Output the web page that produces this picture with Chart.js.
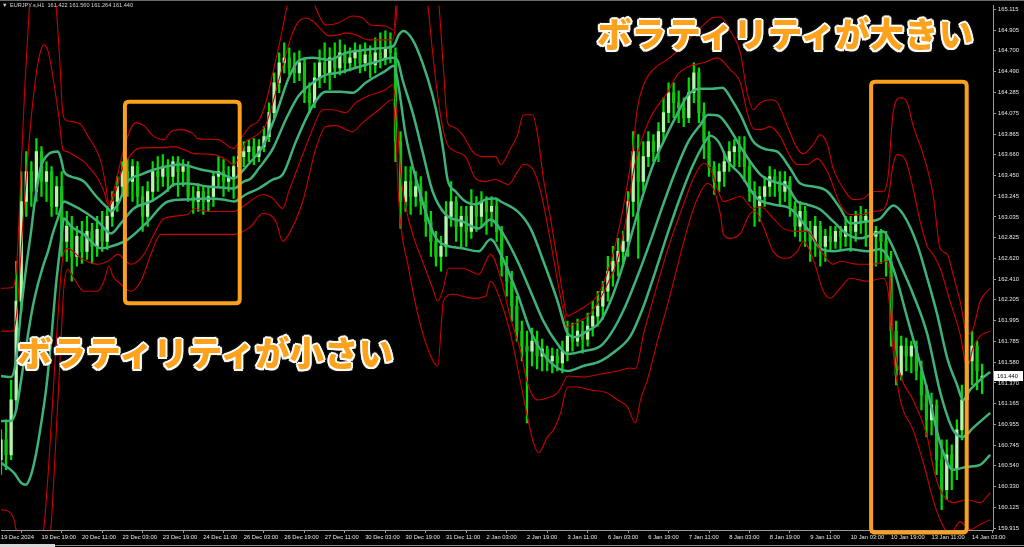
<!DOCTYPE html>
<html lang="ja">
<head>
<meta charset="utf-8">
<title>EURJPY.s,H1</title>
<script src="https://cdn.jsdelivr.net/npm/chart.js@4.4.1/dist/chart.umd.min.js"></script>
<style>
  html, body { margin: 0; padding: 0; background: #000; overflow: hidden; }
  #wrap { position: relative; width: 1024px; height: 547px; }
  #chart { position: absolute; left: 0; top: 0; }
  .head { position: absolute; top: 2px; color: #d4d4d4; font-family: "Liberation Sans", sans-serif; font-size: 5.6px; line-height: 7px; white-space: pre; }
  .note { position: absolute; font-family: "Noto Sans CJK JP", sans-serif; font-weight: 900; font-size: 34.6px; line-height: 1; color: #fca21c; white-space: nowrap;
    text-shadow: 2px 0 0 #fff, -2px 0 0 #fff, 0 2px 0 #fff, 0 -2px 0 #fff, 1.5px 1.5px 0 #fff, -1.5px 1.5px 0 #fff, 1.5px -1.5px 0 #fff, -1.5px -1.5px 0 #fff, 0 0 4px #888; }
</style>
</head>
<body>
<div id="wrap">
  <canvas id="chart" width="1024" height="547"></canvas>
  <div class="head" style="left:2px">▼</div>
  <div class="head" style="left:10px">EURJPY.s,H1  161.422 161.560 161.264 161.440</div>
  <div class="note" style="left:597px; top:15px">ボラティリティが大きい</div>
  <div class="note" style="left:17px; top:334px">ボラティリティが小さい</div>
</div>
<script>
const ctx = document.getElementById('chart').getContext('2d');

// time axis: one label every 16 hourly bars
const timeLabels = ['19 Dec 2024', '19 Dec 19:00', '20 Dec 11:00', '23 Dec 03:00', '23 Dec 19:00', '24 Dec 11:00',
  '26 Dec 03:00', '26 Dec 19:00', '27 Dec 11:00', '30 Dec 03:00', '30 Dec 19:00', '31 Dec 11:00', '2 Jan 03:00',
  '2 Jan 19:00', '3 Jan 11:00', '6 Jan 03:00', '6 Jan 19:00', '7 Jan 11:00', '8 Jan 03:00', '8 Jan 19:00',
  '9 Jan 11:00', '10 Jan 03:00', '10 Jan 19:00', '13 Jan 11:00', '14 Jan 03:00'];
const priceTicks = [165.115, 164.905, 164.700, 164.490, 164.285, 164.075, 163.865, 163.660, 163.450, 163.245,
  163.035, 162.825, 162.620, 162.410, 162.205, 161.995, 161.785, 161.580, 161.370, 161.165, 160.955, 160.745,
  160.540, 160.330, 160.125, 159.915];

// candles, one every 2 bars
const opens = [160.60,160.80,160.65,161.20,162.19,163.19,163.49,163.29,163.69,163.39,
  163.49,163.14,163.34,162.79,162.94,162.64,162.84,162.69,162.89,162.74,
  162.91,162.79,163.04,163.19,163.34,163.49,163.39,163.54,163.24,163.04,
  163.29,163.49,163.44,163.54,163.44,163.59,163.49,163.54,163.24,163.19,
  163.29,163.19,163.24,163.44,163.49,163.39,163.44,163.54,163.64,163.69,
  163.74,163.64,163.74,163.84,164.08,164.38,164.58,164.63,164.53,164.48,
  164.58,164.28,164.18,164.43,164.58,164.48,164.63,164.53,164.68,164.58,
  164.63,164.70,164.58,164.66,164.56,164.68,164.63,164.73,164.68,163.79,
  163.19,163.39,163.24,163.34,163.19,162.99,162.79,162.64,162.74,163.04,
  163.19,162.94,163.04,162.89,163.14,163.04,163.19,163.09,163.14,162.89,
  162.54,162.39,162.14,161.89,161.74,161.69,161.79,161.64,161.71,161.59,
  161.64,161.57,161.69,161.84,161.79,161.89,161.81,161.94,162.04,162.14,
  162.29,162.49,162.59,162.69,162.79,163.19,163.69,163.39,163.64,163.79,
  163.69,163.89,164.08,164.28,164.18,164.13,164.03,164.28,164.48,164.08,
  163.79,163.54,163.39,163.49,163.59,163.69,163.74,163.69,163.54,163.29,
  163.14,163.24,163.34,163.44,163.39,163.29,163.39,163.14,162.94,163.09,
  162.89,162.79,162.94,162.74,162.84,162.79,162.89,162.84,162.94,162.89,
  163.04,162.99,163.04,162.84,162.89,162.79,162.59,161.89,161.45,161.74,
  161.64,161.74,161.49,161.25,161.00,161.15,160.60,160.30,160.65,160.50,
  160.90,161.20,161.59,161.74,161.422];
const highs = [160.90,161.00,161.40,162.59,163.49,163.69,163.59,163.82,163.74,163.59,
  163.54,163.44,163.49,163.09,163.04,162.94,162.99,163.04,162.97,163.04,
  163.09,163.14,163.29,163.44,163.59,163.62,163.61,163.59,163.34,163.39,
  163.59,163.64,163.66,163.61,163.64,163.64,163.61,163.59,163.34,163.37,
  163.34,163.34,163.49,163.64,163.61,163.54,163.64,163.74,163.79,163.81,
  163.82,163.81,163.94,164.18,164.48,164.68,164.78,164.73,164.68,164.70,
  164.63,164.38,164.58,164.71,164.78,164.73,164.78,164.81,164.76,164.73,
  164.78,164.76,164.78,164.75,164.83,164.88,164.90,164.88,164.73,163.89,
  163.54,163.54,163.49,163.44,163.29,163.09,162.89,162.84,163.19,163.39,
  163.24,163.14,163.14,163.31,163.24,163.29,163.24,163.24,163.22,162.94,
  162.64,162.49,162.24,161.99,161.89,161.92,161.89,161.81,161.74,161.72,
  161.71,161.79,161.99,161.97,162.01,161.99,162.07,162.19,162.29,162.39,
  162.64,162.74,162.82,162.89,163.29,163.89,163.86,163.79,163.89,163.86,
  163.98,164.23,164.38,164.38,164.30,164.23,164.43,164.58,164.53,164.18,
  163.89,163.59,163.57,163.69,163.79,163.81,163.84,163.84,163.59,163.39,
  163.34,163.44,163.54,163.51,163.49,163.49,163.44,163.19,163.19,163.14,
  162.99,163.04,162.99,162.91,162.94,162.94,162.94,163.04,163.04,163.09,
  163.14,163.11,163.09,162.94,162.91,162.89,162.69,161.99,161.84,161.82,
  161.79,161.79,161.59,161.35,161.27,161.20,160.80,160.80,160.75,161.00,
  161.35,161.79,161.89,161.79,161.560];
const lows = [160.45,160.50,160.60,161.10,162.09,163.04,163.14,163.19,163.24,163.19,
  163.04,163.06,162.64,162.59,162.39,162.54,162.57,162.61,162.57,162.64,
  162.69,162.71,162.94,163.09,163.24,163.24,163.19,163.14,162.89,162.94,
  163.19,163.29,163.34,163.29,163.34,163.24,163.34,163.19,163.07,163.09,
  163.06,163.09,163.14,163.34,163.24,163.29,163.22,163.44,163.54,163.59,
  163.56,163.59,163.69,163.79,164.03,164.28,164.48,164.46,164.38,164.40,
  164.18,164.08,164.13,164.33,164.38,164.31,164.43,164.46,164.48,164.50,
  164.53,164.48,164.50,164.43,164.48,164.53,164.56,164.58,163.59,162.92,
  163.09,163.06,163.14,163.06,162.84,162.64,162.54,162.49,162.64,162.94,
  162.79,162.72,162.74,162.82,162.89,162.94,162.86,162.94,162.79,162.44,
  162.24,161.99,161.79,161.59,160.97,161.54,161.51,161.49,161.49,161.47,
  161.49,161.47,161.59,161.69,161.74,161.67,161.74,161.84,161.94,162.01,
  162.19,162.34,162.44,162.54,162.64,163.04,162.62,163.29,163.54,163.59,
  163.59,163.79,163.98,164.03,163.98,163.94,163.98,164.18,163.98,163.62,
  163.44,163.26,163.29,163.34,163.49,163.54,163.54,163.39,163.19,162.94,
  162.99,163.14,163.24,163.24,163.14,163.19,163.04,162.84,162.79,162.74,
  162.59,162.64,162.54,162.59,162.69,162.72,162.71,162.74,162.69,162.79,
  162.87,162.74,162.64,162.54,162.57,162.44,161.74,161.35,161.40,161.49,
  161.47,161.40,161.10,160.83,160.85,160.45,160.10,160.20,160.30,160.40,
  160.80,161.10,161.35,161.30,161.264];
const closes = [160.80,160.65,161.20,162.19,163.19,163.49,163.29,163.69,163.39,163.49,
  163.14,163.34,162.79,162.94,162.64,162.84,162.69,162.89,162.74,162.91,
  162.79,163.04,163.19,163.34,163.49,163.39,163.54,163.24,163.04,163.29,
  163.49,163.44,163.54,163.44,163.59,163.49,163.54,163.24,163.19,163.29,
  163.19,163.24,163.44,163.49,163.39,163.44,163.54,163.64,163.69,163.74,
  163.64,163.74,163.84,164.08,164.38,164.58,164.63,164.53,164.48,164.58,
  164.28,164.18,164.43,164.58,164.48,164.63,164.53,164.68,164.58,164.63,
  164.70,164.58,164.66,164.56,164.68,164.63,164.73,164.68,163.79,163.19,
  163.39,163.24,163.34,163.19,162.99,162.79,162.64,162.74,163.04,163.19,
  162.94,163.04,162.89,163.14,163.04,163.19,163.09,163.14,162.89,162.54,
  162.39,162.14,161.89,161.74,161.69,161.79,161.64,161.71,161.59,161.64,
  161.57,161.69,161.84,161.79,161.89,161.81,161.94,162.04,162.14,162.29,
  162.49,162.59,162.69,162.79,163.19,163.69,163.39,163.64,163.79,163.69,
  163.89,164.08,164.28,164.18,164.13,164.03,164.28,164.48,164.08,163.79,
  163.54,163.39,163.49,163.59,163.69,163.74,163.69,163.54,163.29,163.14,
  163.24,163.34,163.44,163.39,163.29,163.39,163.14,162.94,163.09,162.89,
  162.79,162.94,162.74,162.84,162.79,162.89,162.84,162.94,162.89,163.04,
  162.99,163.04,162.84,162.89,162.79,162.59,161.89,161.45,161.74,161.64,
  161.74,161.49,161.25,161.00,161.15,160.60,160.30,160.65,160.50,160.90,
  161.20,161.59,161.74,161.49,161.440];
const BAR_STEP = 2;

// band lines as [bar, price]
const upper3 = [[0,162.32],[4.7,162.33],[6.3,162.59],[7.9,163.49],[9.5,164.38],[11.1,165.08],[12.2,165.48],[16.6,166.08],[19.8,165.58],[21.7,165.18],[23.3,164.58],[24.5,164.06],[26.1,164.00],[31.6,163.96],[34.0,163.86],[39.5,163.59],[41.5,163.34],[42.7,163.16],[44.3,163.27],[46.2,163.47],[49.4,163.79],[53.3,163.98],[56.5,163.95],[60.5,163.84],[64.4,163.81],[67.2,163.89],[71.1,163.91],[75.9,163.87],[77.8,163.82],[85.7,163.81],[92.1,163.72],[94.8,163.82],[98.8,163.95],[101.9,164.00],[104.7,164.18],[107.5,164.48],[110.6,164.83],[113.4,165.18],[116.6,165.43],[120.5,165.38],[123.7,165.18],[128.4,164.96],[133.5,164.98],[139.1,165.05],[143.0,165.03],[146.2,164.96],[152.1,164.95],[155.3,164.91],[156.5,165.28],[160.0,165.98],[165.9,165.98],[170.7,165.48],[173.1,165.18],[175.0,164.51],[176.6,163.98],[178.6,163.94],[182.5,163.86],[186.5,163.69],[190.4,163.64],[195.6,163.64],[197.6,163.56],[201.5,163.72],[204.3,163.86],[206.6,164.06],[210.2,164.06],[212.2,163.86],[214.5,163.42],[217.3,163.02],[220.1,162.59],[222.0,162.29],[224.0,162.04],[227.2,162.08],[231.1,162.14],[235.9,162.25],[241.0,162.57],[245.8,163.09],[249.7,163.69],[251.7,164.13],[254.8,164.40],[259.6,164.55],[262.7,164.60],[266.7,164.68],[270.6,164.78],[276.6,164.93],[281.3,165.03],[284.5,165.04],[288.4,164.90],[292.4,164.68],[295.1,164.28],[297.5,164.11],[300.3,164.18],[304.2,164.21],[307.0,164.18],[310.9,163.95],[314.9,163.72],[317.3,163.67],[321.2,163.76],[324.0,163.86],[326.8,163.76],[329.1,163.52],[333.1,163.32],[337.0,163.21],[341.0,163.22],[344.9,163.29],[348.9,163.29],[350.8,163.44],[352.8,164.08],[355.6,164.23],[358.4,164.18],[360.7,163.95],[364.7,163.66],[368.6,163.26],[371.4,162.72],[374.2,162.66],[376.5,162.46],[379.3,162.19],[382.1,161.86],[384.4,161.91],[387.2,162.19],[391.2,162.32]];
const upper2 = [[0,161.89],[4.7,161.89],[6.3,162.09],[8.7,162.99],[11.1,163.79],[13.0,164.28],[15.0,164.63],[17.0,164.76],[19.0,164.66],[20.9,164.38],[22.9,164.03],[24.5,163.71],[26.1,163.69],[29.6,163.64],[32.8,163.59],[35.6,163.51],[38.3,163.42],[40.7,163.29],[42.7,163.14],[44.3,163.21],[46.2,163.36],[48.6,163.56],[50.2,163.62],[54.1,163.72],[59.3,163.73],[64.4,163.73],[68.4,163.74],[72.3,163.71],[76.3,163.67],[84.2,163.66],[88.9,163.61],[92.1,163.56],[94.8,163.67],[96.8,163.79],[98.8,163.82],[101.9,163.87],[104.7,163.96],[107.5,164.18],[109.8,164.40],[111.8,164.58],[114.6,164.83],[117.3,164.98],[120.5,165.03],[123.3,165.00],[126.4,164.92],[129.6,164.85],[133.5,164.86],[136.3,164.88],[140.3,164.86],[145.4,164.81],[150.1,164.81],[154.9,164.81],[156.1,164.98],[157.3,165.38],[162.0,165.98],[165.9,165.58],[168.7,165.18],[170.7,164.68],[172.7,164.25],[174.6,163.94],[176.6,163.76],[179.8,163.69],[183.7,163.64],[187.7,163.42],[191.6,163.39],[195.6,163.41],[197.6,163.39],[200.7,163.36],[204.3,163.49],[206.6,163.56],[210.2,163.52],[213.4,163.29],[217.3,162.79],[220.1,162.39],[222.4,162.09],[224.0,161.93],[227.2,161.97],[231.9,162.04],[235.9,162.17],[239.8,162.36],[243.8,162.61],[247.7,163.09],[250.1,163.49],[252.9,163.77],[256.8,164.03],[263.5,164.28],[267.5,164.46],[272.6,164.55],[277.8,164.58],[283.3,164.63],[288.4,164.51],[292.4,164.38],[295.1,164.08],[297.5,163.92],[300.3,163.91],[304.2,163.94],[308.2,163.84],[312.1,163.64],[314.9,163.56],[318.8,163.56],[322.8,163.62],[326.8,163.49],[331.9,163.16],[335.8,163.06],[339.8,163.06],[344.9,163.09],[348.9,163.11],[350.8,163.22],[352.8,163.56],[354.4,163.66],[357.6,163.61],[360.7,163.32],[363.5,162.99],[366.3,162.74],[368.6,162.66],[371.4,162.52],[375.3,162.19],[379.3,161.86],[382.1,161.52],[384.4,161.72],[387.2,161.84],[391.2,161.89]];
const upper1 = [[0,161.44],[4.0,161.43],[5.9,161.59],[7.9,162.09],[9.9,162.52],[11.9,162.89],[13.0,163.12],[14.6,163.39],[15.8,163.54],[18.6,163.66],[22.5,163.69],[23.7,163.62],[24.9,163.49],[27.7,163.44],[32.8,163.39],[36.7,163.27],[39.5,163.19],[42.3,163.12],[43.5,163.09],[46.2,163.16],[50.2,163.39],[55.3,163.46],[62.0,163.52],[71.1,163.56],[79.0,163.51],[86.9,163.47],[92.1,163.42],[96.0,163.51],[98.8,163.59],[103.5,163.74],[108.7,164.06],[113.8,164.43],[117.7,164.60],[123.3,164.63],[129.6,164.61],[136.3,164.68],[144.2,164.71],[152.1,164.73],[155.3,164.75],[157.3,164.86],[159.2,164.90],[162.8,164.81],[166.7,164.58],[170.7,164.25],[173.1,163.98],[175.0,163.69],[176.6,163.41],[179.8,163.29],[183.7,163.19],[187.7,163.16],[191.6,163.21],[195.6,163.22],[197.6,163.19],[204.3,163.09],[209.4,162.92],[214.5,162.59],[220.1,162.19],[224.0,161.87],[227.2,161.83],[231.1,161.88],[237.1,161.99],[241.8,162.24],[245.8,162.54],[249.7,162.89],[253.7,163.24],[257.6,163.54],[262.0,163.79],[266.7,164.03],[271.8,164.26],[276.6,164.32],[281.3,164.32],[285.3,164.33],[289.2,164.20],[292.4,164.06],[297.5,163.79],[303.0,163.71],[307.0,163.69],[312.1,163.52],[316.1,163.37],[321.2,163.34],[326.8,163.29],[331.9,163.12],[335.8,162.97],[342.6,162.99],[347.7,163.02],[350.8,163.11],[352.8,163.15],[356.8,163.06],[362.3,162.76],[366.3,162.42],[370.2,162.06],[374.2,161.62],[378.1,161.35],[380.5,161.20],[383.2,161.30],[387.2,161.40],[391.2,161.48]];
const middle = [[0,160.99],[4.0,160.99],[5.9,161.09],[7.9,161.39],[10.7,161.86],[12.6,162.14],[14.6,162.36],[16.6,162.54],[18.6,162.69],[20.5,162.87],[22.5,163.02],[24.9,163.19],[27.7,163.16],[32.8,163.09],[38.3,162.99],[43.5,162.87],[47.4,162.97],[52.5,163.12],[59.3,163.19],[65.2,163.29],[68.4,163.36],[73.9,163.37],[81.8,163.34],[87.7,163.33],[92.1,163.32],[96.0,163.39],[98.8,163.42],[101.9,163.52],[107.5,163.72],[112.6,164.01],[117.7,164.25],[123.3,164.38],[128.4,164.46],[133.5,164.48],[140.3,164.53],[147.0,164.58],[154.9,164.63],[156.9,164.60],[158.8,164.41],[162.8,164.08],[166.7,163.69],[170.7,163.29],[175.8,163.06],[182.5,162.99],[188.9,162.92],[193.6,163.01],[198.7,162.86],[204.3,162.59],[209.4,162.29],[214.5,161.99],[220.1,161.76],[224.0,161.66],[230.3,161.69],[237.1,161.74],[241.8,161.89],[246.9,162.14],[251.7,162.44],[256.8,162.79],[261.6,163.14],[266.7,163.49],[271.8,163.79],[276.6,163.96],[279.7,164.06],[283.7,164.05],[287.6,163.94],[292.4,163.74],[300.3,163.46],[305.4,163.39],[310.9,163.34],[314.9,163.19],[318.8,163.16],[324.0,163.11],[329.1,162.99],[334.7,162.86],[339.8,162.82],[344.9,162.86],[348.9,162.89],[351.6,162.79],[355.6,162.56],[360.7,162.26],[366.3,161.86],[371.4,161.28],[376.5,160.90],[380.5,160.83],[384.4,160.92],[391.2,161.07]];
const lower1 = [[0,160.57],[5.1,160.47],[7.9,160.37],[9.9,160.35],[11.9,160.45],[13.8,160.65],[15.8,160.95],[17.8,161.30],[19.8,161.79],[21.7,162.34],[23.7,162.79],[24.9,163.02],[27.7,162.94],[32.8,162.86],[39.5,162.72],[43.5,162.74],[50.2,162.81],[58.1,162.99],[66.0,163.19],[73.9,163.21],[81.8,163.22],[87.7,163.21],[92.1,163.19],[96.8,163.26],[101.9,163.32],[107.5,163.41],[111.4,163.46],[116.6,163.79],[123.3,164.15],[128.4,164.29],[134.3,164.29],[139.1,164.28],[144.2,164.38],[152.1,164.50],[155.3,164.55],[157.3,164.33],[160.0,163.86],[165.2,163.32],[170.7,162.89],[173.1,162.79],[182.5,162.72],[188.9,162.69],[193.6,162.81],[197.6,162.66],[204.3,162.26],[209.4,161.89],[214.5,161.66],[220.1,161.52],[224.0,161.49],[230.3,161.54],[237.1,161.59],[243.0,161.69],[248.9,161.84],[254.1,162.14],[258.8,162.49],[263.9,162.89],[268.7,163.24],[273.4,163.54],[278.5,163.79],[280.5,163.85],[283.7,163.79],[287.6,163.59],[292.4,163.46],[299.1,163.22],[305.4,163.16],[312.1,163.12],[318.8,162.92],[324.0,162.72],[329.1,162.69],[335.8,162.71],[342.6,162.69],[347.7,162.71],[352.8,162.52],[358.4,162.02],[366.3,161.30],[371.4,160.77],[376.5,160.50],[382.1,160.53],[387.2,160.55],[391.2,160.65]];
const lower2 = [[0,160.10],[3.2,160.08],[5.1,160.00],[7.1,159.75],[9.9,159.50],[13.8,159.60],[17.0,159.93],[19.0,160.60],[20.9,161.39],[22.9,162.19],[24.5,162.64],[26.5,162.72],[31.6,162.62],[38.3,162.56],[42.3,162.59],[46.2,162.66],[51.4,162.56],[56.5,162.66],[60.5,162.86],[64.4,163.02],[73.9,163.06],[76.3,163.12],[81.8,163.09],[92.1,163.09],[96.8,163.16],[103.5,163.26],[107.5,163.22],[111.4,163.12],[113.8,163.29],[119.3,163.66],[123.3,163.92],[127.2,164.11],[131.2,164.11],[136.3,164.08],[140.3,164.18],[145.4,164.25],[152.1,164.31],[154.9,164.36],[156.5,164.08],[158.0,163.49],[160.0,163.14],[162.8,162.86],[166.7,162.59],[170.7,162.32],[172.7,162.19],[174.6,162.29],[177.0,162.52],[182.5,162.52],[188.9,162.46],[193.6,162.66],[197.6,162.42],[201.5,162.02],[205.5,161.69],[208.2,161.37],[212.2,161.20],[216.1,161.22],[220.1,161.27],[222.4,161.37],[224.0,161.44],[230.3,161.43],[237.1,161.46],[243.8,161.49],[248.9,161.52],[250.9,161.51],[254.1,161.86],[259.6,162.36],[264.7,162.79],[269.9,163.16],[273.8,163.42],[277.8,163.57],[280.5,163.52],[283.3,163.32],[285.7,163.19],[292.4,163.24],[297.5,163.12],[300.3,163.14],[305.4,163.02],[309.4,162.92],[314.9,162.89],[318.8,162.89],[325.2,162.66],[329.1,162.56],[331.9,162.59],[338.6,162.56],[344.9,162.56],[350.4,162.59],[351.6,162.42],[352.8,161.86],[355.6,161.46],[360.7,161.20],[366.3,160.83],[368.6,160.53],[371.4,160.30],[376.5,160.17],[382.1,160.20],[387.2,160.17],[391.2,160.27]];
const lower3 = [[0,159.20],[7.9,158.70],[15.8,159.00],[19.8,159.93],[21.7,160.80],[23.7,161.79],[24.9,162.34],[26.5,162.51],[28.8,162.42],[32.8,162.29],[38.3,162.29],[40.7,162.39],[42.7,162.54],[44.3,162.44],[47.4,162.36],[51.4,162.29],[55.3,162.39],[59.3,162.66],[63.2,162.86],[73.9,162.86],[84.2,162.86],[92.1,162.86],[98.8,162.94],[103.5,163.07],[108.7,162.99],[111.4,162.79],[113.8,162.86],[119.3,163.19],[124.5,163.72],[128.4,163.94],[132.4,163.95],[139.1,163.89],[143.0,163.98],[149.4,164.11],[154.9,164.21],[156.1,163.89],[157.3,163.19],[161.2,162.52],[165.2,162.02],[169.1,161.69],[172.7,161.54],[175.0,162.19],[178.6,162.26],[186.5,162.22],[191.6,162.24],[193.6,162.39],[197.6,162.19],[201.5,161.86],[205.5,161.37],[208.2,161.03],[210.6,160.77],[212.6,160.67],[216.1,160.83],[218.5,160.90],[221.3,161.07],[224.0,161.33],[228.0,161.33],[233.1,161.30],[239.8,161.27],[243.8,161.20],[247.7,161.13],[250.9,160.97],[252.9,161.20],[255.6,161.40],[259.6,161.79],[264.7,162.26],[268.7,162.66],[272.6,163.02],[275.4,163.22],[279.3,163.37],[281.7,163.32],[284.5,163.06],[285.7,162.86],[288.4,162.82],[292.4,162.87],[296.3,163.07],[298.3,163.09],[301.5,162.94],[305.4,162.69],[310.9,162.62],[314.9,162.69],[317.3,162.79],[321.2,162.61],[325.2,162.29],[327.9,162.22],[331.9,162.32],[335.8,162.42],[342.6,162.39],[348.9,162.42],[350.8,162.29],[352.8,161.69],[355.6,161.20],[360.7,160.90],[365.5,160.50],[368.6,160.20],[371.4,160.00],[375.3,159.85],[379.3,159.98],[383.2,159.90],[387.2,159.95],[391.2,160.00]];

// highlighted windows: [fromBar, toBar, topPrice, bottomPrice]
const boxCalm = [49.0, 94.4, 164.19, 162.17];
const boxWild = [344.1, 381.9, 164.39, 159.87];

let pts = (arr) => arr.map(p => ({ x: p[0], y: p[1] }));
let lineSet = (arr, color, width) => ({
    type: 'line', data: pts(arr), borderColor: color, borderWidth: width,
    pointRadius: 0, fill: false, cubicInterpolationMode: 'monotone', order: 1
});

const wicks = highs.map((h, i) => ({ x: i * BAR_STEP, y: [lows[i], h] }));
const bodies = opens.map((o, i) => ({ x: i * BAR_STEP, y: [o, closes[i]] }));
const bodyColors = opens.map((o, i) => closes[i] >= o ? '#b4f7aa' : '#12c412');

function roundBox(c, x, y, w, h, r) {
    c.beginPath();
    c.moveTo(x + r, y);
    c.lineTo(x + w - r, y);
    c.quadraticCurveTo(x + w, y, x + w, y + r);
    c.lineTo(x + w, y + h - r);
    c.quadraticCurveTo(x + w, y + h, x + w - r, y + h);
    c.lineTo(x + r, y + h);
    c.quadraticCurveTo(x, y + h, x, y + h - r);
    c.lineTo(x, y + r);
    c.quadraticCurveTo(x, y, x + r, y);
    c.closePath();
}

const overlay = {
    id: 'overlay',
    afterDraw(chart) {
        const c = chart.ctx, xs = chart.scales.x, ys = chart.scales.y;
        c.save();
        c.fillStyle = '#6a6a6a';
        c.fillRect(0, 0, 1024, 1);
        c.fillStyle = '#8a8a8a';
        c.fillRect(0, 545, 1024, 1);
        c.fillStyle = '#d8d8d8';
        c.fillRect(0, 544, 55, 3);
        c.strokeStyle = '#f9a11e';
        c.lineWidth = 4;
        [boxCalm, boxWild].forEach(b => {
            const x0 = xs.getPixelForValue(b[0]), x1 = xs.getPixelForValue(b[1]);
            const y0 = ys.getPixelForValue(b[2]), y1 = ys.getPixelForValue(b[3]);
            roundBox(c, x0, y0, x1 - x0, y1 - y0, 4);
            c.stroke();
        });
        // last price tag on the axis
        const last = closes[closes.length - 1];
        const py = Math.round(ys.getPixelForValue(last));
        c.fillStyle = '#ffffff';
        c.fillRect(994, py - 5, 29, 10);
        c.fillStyle = '#000000';
        c.font = '5.8px "Liberation Sans"';
        c.textBaseline = 'middle';
        c.fillText(last.toFixed(3), 997, py);
        c.restore();
    }
};

new Chart(ctx, {
    type: 'bar',
    data: {
        datasets: [
            lineSet(upper3, '#cc0000', 1.1),
            lineSet(upper2, '#cc0000', 1.1),
            lineSet(lower2, '#cc0000', 1.1),
            lineSet(lower3, '#cc0000', 1.1),
            lineSet(upper1, '#3fb27a', 2.5),
            lineSet(middle, '#3fb27a', 2.5),
            lineSet(lower1, '#3fb27a', 2.5),
            { type: 'bar', data: wicks, backgroundColor: '#00dd00', barThickness: 1.6, grouped: false, borderWidth: 0, order: 5 },
            { type: 'bar', data: bodies, backgroundColor: bodyColors, barThickness: 2.6, grouped: false, borderWidth: 0, order: 4 }
        ]
    },
    options: {
        responsive: false,
        animation: false,
        events: [],
        layout: { padding: { top: 2, left: 0, right: 0, bottom: 0 } },
        plugins: { legend: { display: false }, tooltip: { enabled: false } },
        scales: {
            x: {
                type: 'linear', min: 0, max: 392.3, offset: false,
                grid: { drawOnChartArea: false, drawTicks: true, tickLength: 3, color: '#9a9a9a' },
                border: { display: true, color: '#9a9a9a' },
                ticks: {
                    color: '#e6e6e6', font: { family: 'Liberation Sans', size: 5.8 }, align: 'start',
                    autoSkip: false, maxRotation: 0, minRotation: 0, padding: 1,
                    callback: (v, i) => timeLabels[i]
                },
                afterBuildTicks: (s) => { s.ticks = timeLabels.map((_, i) => ({ value: i * 16 })); },
                afterFit: (s) => { s.height = 17; }
            },
            y: {
                position: 'right', min: 159.896, max: 165.155,
                grid: { drawOnChartArea: false, drawTicks: true, tickLength: 3, color: '#9a9a9a' },
                border: { display: true, color: '#9a9a9a' },
                ticks: {
                    color: '#e6e6e6', font: { family: 'Liberation Sans', size: 5.8 }, padding: 2,
                    autoSkip: false, callback: (v) => Number(v).toFixed(3)
                },
                afterBuildTicks: (s) => { s.ticks = priceTicks.map(v => ({ value: v })); },
                afterFit: (s) => { s.width = 31; }
            }
        }
    },
    plugins: [overlay]
});
</script>
</body>
</html>
